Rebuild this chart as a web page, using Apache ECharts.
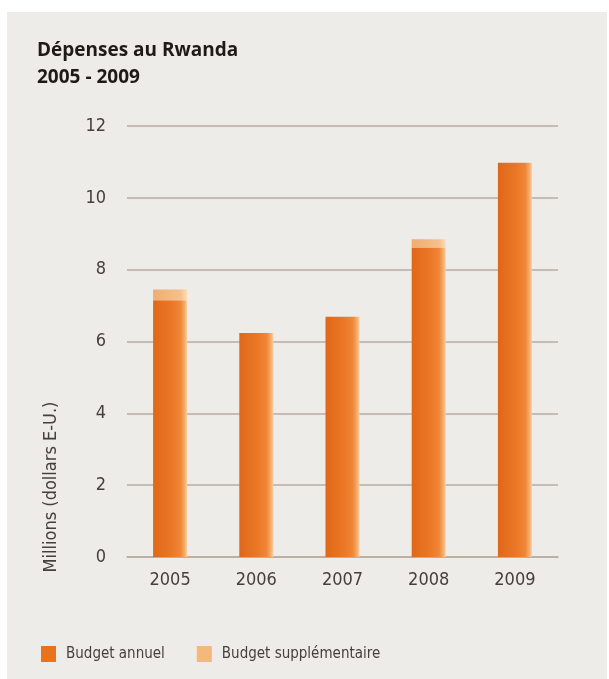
<!DOCTYPE html>
<html><head><meta charset="utf-8">
<script src="https://cdn.jsdelivr.net/npm/echarts@6/dist/echarts.min.js"></script>
<style>html,body{margin:0;padding:0;background:#fff}#c{width:609px;height:679px}</style>
</head><body><div id="c"></div>
<script>
const years = ['2005','2006','2007','2008','2009'];
const budgetAnnuel = [7.15, 6.24, 6.69, 8.62, 10.98];
const budgetSupp = [0.3, 0, 0, 0.23, 0];
const yTicks = [0, 2, 4, 6, 8, 10, 12];
const titleLines = ['Dépenses au Rwanda', '2005 - 2009'];
const yName = 'Millions (dollars E-U.)';
const seriesNames = ['Budget annuel', 'Budget supplémentaire'];

const condFont = '"Liberation Sans Narrow", "DejaVu Sans Condensed", "Open Sans", sans-serif';
const chart = echarts.init(document.getElementById('c'));
const gradMain = {type:'linear',x:0,y:0,x2:1,y2:0,colorStops:[
  {offset:0,color:'#df6818'},{offset:0.55,color:'#eb7826'},{offset:0.8,color:'#ef8636'},{offset:0.92,color:'#f4aa68'},{offset:1,color:'#f8cfa2'}]};
const gradSupp = {type:'linear',x:0,y:0,x2:1,y2:0,colorStops:[
  {offset:0,color:'#f0ad70'},{offset:0.8,color:'#f5c08c'},{offset:1,color:'#fbdcb9'}]};
chart.setOption({
  animation:false,
  backgroundColor:'#ffffff',
  graphic:[
    {type:'rect',z:-10,shape:{x:7,y:12,width:600,height:667},style:{fill:'#eeece9'}},
    {type:'text',left:37,top:37,style:{text:titleLines.join('\n'),font:'bold 19px "Open Sans", sans-serif',fill:'#1e1a18',lineHeight:27}},
    {type:'text',x:51,y:487,rotation:Math.PI/2,style:{text:yName,font:'18px '+condFont,fill:'#45403c',align:'center',verticalAlign:'middle'}}
  ],
  grid:{left:127,right:51,top:126,bottom:122},
  legend:{left:36,top:641,itemWidth:15,itemHeight:16,itemGap:32,icon:'rect',
    textStyle:{fontFamily:condFont,fontSize:15,color:'#45403c',padding:[0,0,0,5]},
    data:[{name:seriesNames[0],itemStyle:{color:'#e8731f'}},{name:seriesNames[1],itemStyle:{color:'#f4b77c'}}]},
  xAxis:{type:'category',data:years,
    axisLine:{show:true,lineStyle:{color:'#b9aca0',width:1.5}},axisTick:{show:false},
    axisLabel:{margin:14,fontFamily:condFont,fontSize:18,color:'#45403c'}},
  yAxis:{type:'value',min:0,max:12,interval:2,
    axisLine:{show:false},axisTick:{show:false},
    splitLine:{lineStyle:{color:'#b9aca0',width:1.5}},
    axisLabel:{margin:21,fontFamily:condFont,fontSize:18,color:'#45403c',
      formatter:v=>yTicks.includes(v)?String(v):''}},
  series:[
    {name:seriesNames[0],type:'bar',stack:'b',barWidth:34,data:budgetAnnuel,itemStyle:{color:gradMain}},
    {name:seriesNames[1],type:'bar',stack:'b',barWidth:34,data:budgetSupp,itemStyle:{color:gradSupp}}
  ]
});
</script></body></html>
